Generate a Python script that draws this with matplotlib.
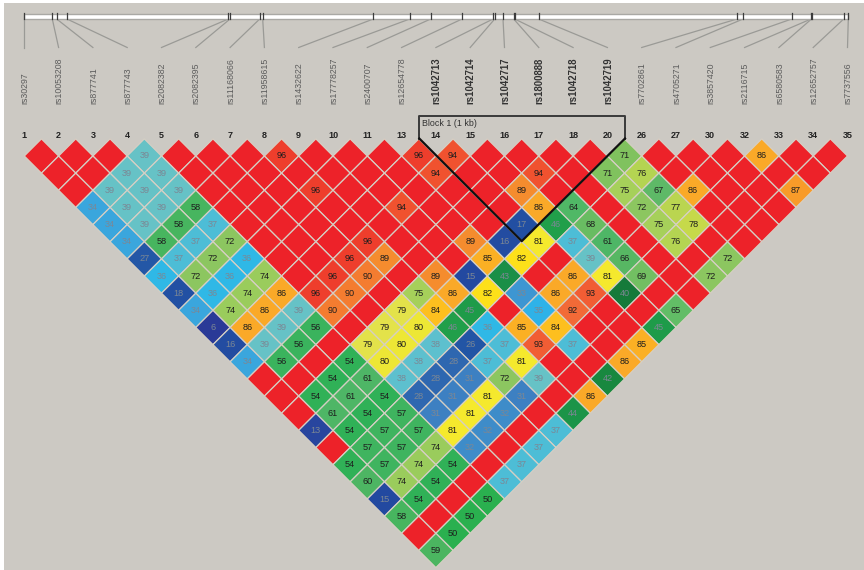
import matplotlib
matplotlib.use("Agg")
import matplotlib.pyplot as plt
from matplotlib.patches import Polygon, Rectangle

# snp numbers, names, and where each one sits on the physical map bar
snp_ids = [1, 2, 3, 4, 5, 6, 7, 8, 9, 10, 11, 13, 14, 15, 16, 17, 18, 20, 26, 27, 30, 32, 33, 34, 35]
snp_names = ["rs30297", "rs10053208", "rs877741", "rs877743", "rs2082382", "rs2082395", "rs11168066",
             "rs11958615", "rs1432622", "rs17778257", "rs2400707", "rs12654778", "rs1042713", "rs1042714",
             "rs1042717", "rs1800888", "rs1042718", "rs1042719", "rs7702861", "rs4705271", "rs3857420",
             "rs2116715", "rs6580583", "rs12652757", "rs7737556"]
map_pos = [24.3, 52.3, 56.7, 67, 228.3, 230, 259.7, 262.7, 373.3, 409.7, 430.7, 462, 493, 494.7,
           503, 513.7, 514.7, 538.7, 737, 743, 791.7, 811, 811.5, 843.7, 848.3]
bold_snps = [14, 15, 16, 17, 18, 20]

# D' values, one list per row of the triangle, left to right. 100 = solid red, no label
R = 100
row00 = [R, R, R, 39, R, R, R, 96, R, R, R, 96, 94, R, R, R, R, 71, R, R, R, 86, R, R]
row01 = [R, R, 39, 39, R, R, R, R, R, R, R, 94, R, R, 94, R, 71, 76, R, R, R, R, R]
row02 = [R, 39, 39, 39, R, R, R, 96, R, R, R, R, R, 89, R, R, 75, 67, 86, R, R, 87]
row03 = [34, 39, 39, 58, R, R, R, R, R, 94, R, R, R, 86, 64, R, 72, 77, R, R, R]
row04 = [34, 39, 58, 37, R, R, R, R, R, R, R, R, 17, 46, 68, R, 75, 78, R, R]
row05 = [34, 58, 37, 72, R, R, R, 96, R, R, 89, 16, 81, 37, 61, R, 76, R, R]
row06 = [27, 37, 72, 36, R, R, 96, 89, R, R, 85, 82, R, 39, 66, R, R, 72]
row07 = [36, 72, 36, 74, R, 96, 90, R, 89, 15, 43, R, 86, 81, 69, R, 72]
row08 = [18, 36, 74, 86, 96, 90, R, 75, 86, 82, 33, 86, 93, 40, R, R]
row09 = [34, 74, 86, 39, 90, R, 79, 84, 45, R, 35, 92, R, R, 65]
row10 = [6, 86, 39, 56, R, 79, 80, 46, 36, 85, 84, R, R, 45]
row11 = [16, 39, 56, R, 79, 80, 38, 26, 37, 93, 37, R, 85]
row12 = [34, 56, R, 54, 80, 38, 28, 37, 81, R, R, 86]
row13 = [R, R, 54, 61, 38, 28, 31, 72, 39, R, 42]
row14 = [R, 54, 61, 54, 28, 31, 81, 31, R, 86]
row15 = [R, 61, 54, 57, 31, 81, 32, R, 44]
row16 = [13, 54, 57, 57, 81, 32, R, 37]
row17 = [R, 57, 57, 74, 32, R, 37]
row18 = [54, 57, 74, 54, R, 37]
row19 = [60, 74, 54, R, 37]
row20 = [15, 54, R, 50]
row21 = [58, R, 50]
row22 = [R, 50]
row23 = [59]
ld_rows = [row00, row01, row02, row03, row04, row05, row06, row07, row08, row09, row10, row11,
           row12, row13, row14, row15, row16, row17, row18, row19, row20, row21, row22, row23]

ld_colors = {100: "#ED2229", 96: "#EE3E2C", 94: "#F0522F", 93: "#F15D34", 92: "#F26A37", 90: "#F47C30",
             89: "#F58C2E", 87: "#F89B29", 86: "#FAA928", 85: "#FBB024", 84: "#FDBF1F", 82: "#FDE01A",
             81: "#F5E92D", 80: "#EDE735", 79: "#E3E24A", 78: "#C6D94A", 77: "#BAD550", 76: "#B4D452",
             75: "#A6D05A", 74: "#9ACC5C", 72: "#8CC660", 71: "#80C25E", 69: "#72BF62", 68: "#69BC62",
             67: "#5EB967", 66: "#57B763", 65: "#62BD66", 64: "#50B866", 61: "#4EB666", 60: "#4DB563",
             59: "#4BB560", 58: "#47B55F", 57: "#3FB45F", 56: "#3AB35D", 54: "#30B157", 50: "#2AB04F",
             46: "#219F4A", 45: "#1E9B49", 44: "#1B9448", 43: "#1A8F47", 42: "#18883F", 40: "#157A3A",
             39: "#66C2C6", 38: "#5DC0CE", 37: "#4DBDD6", 36: "#2FB8E6", 35: "#2EB2E8", 34: "#3AA6DD",
             33: "#3D96D2", 32: "#3E8CC9", 31: "#3D80C2", 28: "#2E67B0", 27: "#2457A6", 26: "#2255A5",
             18: "#2250A3", 17: "#224FA2", 16: "#234CA1", 15: "#2349A0", 13: "#28459E", 6: "#2A3A97"}

BG = "#CCC9C3"
X0 = 24.3     # x of first snp
STEP = 34.3   # spacing between snps
HALF = STEP / 2
Y0 = 156.0    # y of the centre of the top row

fig = plt.figure(figsize=(8.64, 5.70), dpi=100, facecolor="white")
ax = fig.add_axes([0, 0, 1, 1])
ax.set_xlim(0, 864)
ax.set_ylim(570, 0)
ax.axis("off")
plt.rcParams["font.family"] = ["Liberation Sans", "DejaVu Sans"]

ax.add_patch(Rectangle((4, 3), 860, 567, facecolor=BG, edgecolor="none", zorder=0))

# map bar on top
ax.add_patch(Rectangle((24.3, 13.5), 824, 5.5, facecolor="white", edgecolor="#A9A8A4", lw=1, zorder=2))
for i, pos in enumerate(map_pos):
    label_x = X0 + i * STEP
    ax.plot([pos, pos], [13, 19], color="#3C3C3C", lw=0.9, zorder=3)
    ax.plot([pos, label_x], [19, 47.5], color="#9A9A96", lw=0.9, zorder=1)
    is_bold = snp_ids[i] in bold_snps
    ax.text(label_x + 0.5, 104, snp_names[i], rotation=90, ha="center", va="bottom",
            fontsize=6.9 if is_bold else 6.3, color="#333333" if is_bold else "#5C5C5C",
            fontweight="bold" if is_bold else "normal")
    ax.text(label_x, 135.5, str(snp_ids[i]), ha="center", va="center", fontsize=6.5,
            fontweight="bold", color="#222222")

# the triangle itself
for r, row in enumerate(ld_rows):
    for k, val in enumerate(row):
        cx = X0 + HALF * (r + 1) + k * STEP
        cy = Y0 + r * HALF
        ax.add_patch(Polygon([(cx, cy - HALF), (cx + HALF, cy), (cx, cy + HALF), (cx - HALF, cy)],
                             closed=True, facecolor=ld_colors[val], edgecolor="#D6CFC4", lw=0.9, zorder=4))
        if val != 100:
            ax.text(cx, cy, str(val), ha="center", va="center", fontsize=6.6, zorder=5,
                    color="#1E1E1E" if val >= 50 else "#7C8794")

# haplotype block outline
ax.plot([419.3, 419.3, 625, 625], [138.5, 116, 116, 138.5], color="#3A3A3A", lw=1.4, zorder=6)
ax.plot([419.3, 521.7, 625], [138.5, 241.2, 138.5], color="#111111", lw=1.6, zorder=6)
ax.text(421.5, 123.8, "Block 1 (1 kb)", ha="left", va="center", fontsize=6.4, color="#333333", zorder=6)

fig.savefig("out.png", dpi=100, facecolor=fig.get_facecolor())
